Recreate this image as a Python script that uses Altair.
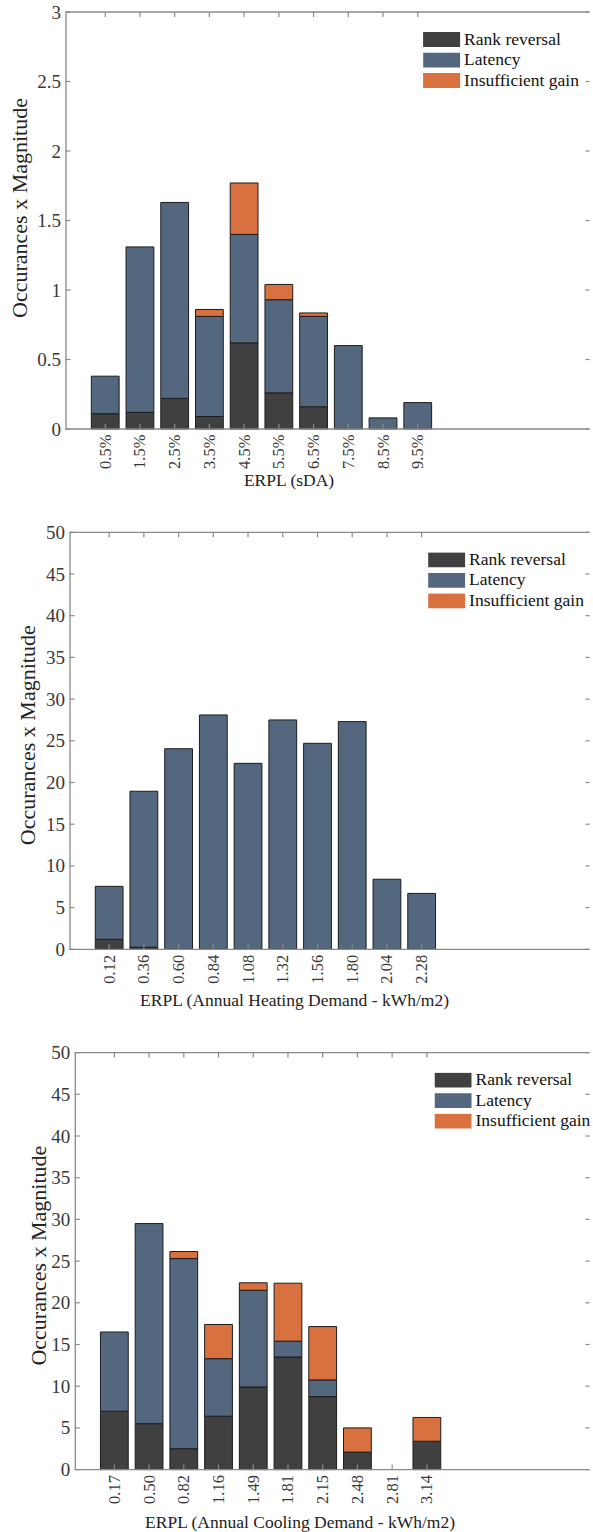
import altair as alt
import pandas as pd

FONT = "Liberation Serif"
names = ["Rank reversal", "Latency", "Insufficient gain"]
colors = ["#404040", "#53687f", "#d8713f"]

labels1 = ["0.5%", "1.5%", "2.5%", "3.5%", "4.5%", "5.5%", "6.5%", "7.5%", "8.5%", "9.5%"]
rank1 = [0.11, 0.12, 0.22, 0.09, 0.62, 0.26, 0.16, 0, 0, 0]
lat1 = [0.27, 1.19, 1.41, 0.72, 0.78, 0.67, 0.65, 0.60, 0.08, 0.19]
gain1 = [0, 0, 0, 0.05, 0.37, 0.11, 0.025, 0, 0, 0]

labels2 = ["0.12", "0.36", "0.60", "0.84", "1.08", "1.32", "1.56", "1.80", "2.04", "2.28"]
rank2 = [1.2, 0.25, 0, 0, 0, 0, 0, 0, 0, 0]
lat2 = [6.35, 18.7, 24.05, 28.1, 22.3, 27.5, 24.7, 27.3, 8.4, 6.7]
gain2 = [0, 0, 0, 0, 0, 0, 0, 0, 0, 0]

labels3 = ["0.17", "0.50", "0.82", "1.16", "1.49", "1.81", "2.15", "2.48", "2.81", "3.14"]
rank3 = [7.0, 5.5, 2.5, 6.4, 9.9, 13.5, 8.75, 2.1, 0, 3.4]
lat3 = [9.5, 24.0, 22.8, 6.9, 11.6, 1.9, 2.0, 0, 0, 0]
gain3 = [0, 0, 0.85, 4.1, 0.9, 6.95, 6.4, 2.9, 0, 2.85]

yticks1 = [0, 0.5, 1, 1.5, 2, 2.5, 3]
yticks23 = [0, 5, 10, 15, 20, 25, 30, 35, 40, 45, 50]

W = 524
H = 417
SP = 35.4
LINE = "#8a8a8a"
SWATCH = "M-1,-0.4L1,-0.4L1,0.4L-1,0.4Z"


def panel(labels, rank, lat, gain, yticks, xtitle, shift, xt_x, xt_y, yt_x, yt_dy, lg_x, lg_y):
    rows = []
    for i, lab in enumerate(labels):
        for k, vals in enumerate([rank, lat, gain]):
            v = vals[i]
            if v > 0:
                rows.append({"pos": i + 1, "lo": i + 0.6, "hi": i + 1.4,
                             "type": names[k], "k": k, "value": v})
    df = pd.DataFrame(rows)
    pos_df = pd.DataFrame({"pos": list(range(1, len(labels) + 1))})
    yt_df = pd.DataFrame({"yv": yticks})
    ymax = yticks[-1]
    d0 = -shift / SP
    xscale = alt.Scale(domain=[d0, d0 + W / SP], nice=False, zero=False)
    yscale = alt.Scale(domain=[0, ymax], nice=False, zero=True)
    lab_expr = "[" + ",".join("'%s'" % l for l in labels) + "][datum.value - 1]"

    xaxis = alt.Axis(values=list(range(1, len(labels) + 1)), labelExpr=lab_expr,
                     labelAngle=270, labelAlign="right", labelBaseline="middle",
                     labelPadding=5, ticks=False, domain=False, grid=False,
                     labelFont=FONT, labelFontSize=16.5, labelColor="#383838",
                     title=xtitle, titleFont=FONT, titleFontSize=17.5,
                     titleFontWeight="normal", titleColor="#222222",
                     titleX=xt_x, titleY=xt_y, titleBaseline="alphabetic",
                     titleAlign="center", titleAnchor="start")
    yaxis = alt.Axis(values=yticks, labelExpr="'' + datum.value", ticks=False,
                     domain=True, domainColor=LINE, domainWidth=1.3, grid=False,
                     offset=-shift, labelPadding=5, labelFont=FONT,
                     labelFontSize=19, labelColor="#383838",
                     title="Occurances x Magnitude", titleFont=FONT,
                     titleFontSize=22, titleFontWeight="normal",
                     titleColor="#222222", titleX=yt_x, titleY=H / 2 + yt_dy)

    bars = alt.Chart(df).mark_bar(orient="vertical", stroke="#1c1c1c", strokeWidth=1).encode(
        x=alt.X("lo:Q", scale=xscale, axis=xaxis, title=xtitle),
        x2="hi:Q",
        y=alt.Y("value:Q", stack="zero", scale=yscale, axis=yaxis,
                title="Occurances x Magnitude"),
        color=alt.Color("type:N", scale=alt.Scale(domain=names, range=colors),
                        legend=alt.Legend(orient="none", legendX=lg_x, legendY=lg_y, title=None,
                                          symbolType=SWATCH, symbolSize=1369,
                                          symbolStrokeWidth=0, symbolOpacity=1,
                                          labelFont=FONT, labelFontSize=17.5,
                                          labelColor="#111111", labelOffset=4,
                                          clipHeight=15, rowPadding=2.5,
                                          padding=0, symbolOffset=0)),
        order=alt.Order("k:Q", sort="ascending"),
    )

    top_ticks = alt.Chart(pos_df).mark_rule(color=LINE, strokeWidth=1.2).encode(
        x=alt.X("pos:Q", scale=xscale, axis=xaxis, title=xtitle), y=alt.value(0), y2=alt.value(5))
    bot_ticks = alt.Chart(pos_df).mark_rule(color=LINE, strokeWidth=1.2).encode(
        x=alt.X("pos:Q", scale=xscale, axis=xaxis, title=xtitle), y=alt.value(H - 5), y2=alt.value(H))
    left_ticks = alt.Chart(yt_df).mark_rule(color=LINE, strokeWidth=1.2).encode(
        y=alt.Y("yv:Q", scale=yscale, axis=yaxis, title="Occurances x Magnitude"),
        x=alt.value(shift), x2=alt.value(shift + 5))
    right_ticks = alt.Chart(yt_df).mark_rule(color=LINE, strokeWidth=1.2).encode(
        y=alt.Y("yv:Q", scale=yscale, axis=yaxis, title="Occurances x Magnitude"),
        x=alt.value(W - 4), x2=alt.value(W))
    one = pd.DataFrame({"a": [0]})
    top_line = alt.Chart(one).mark_rule(color=LINE, strokeWidth=1.3).encode(
        x=alt.value(shift), x2=alt.value(W), y=alt.value(0))
    bot_line = alt.Chart(one).mark_rule(color=LINE, strokeWidth=1.3).encode(
        x=alt.value(shift), x2=alt.value(W), y=alt.value(H))

    return alt.layer(bars, top_ticks, bot_ticks, left_ticks, right_ticks, top_line, bot_line).properties(
        width=W, height=H)


c1 = panel(labels1, rank1, lat1, gain1, yticks1, "ERPL (sDA)", 0.0, 223, 56, -34, -13, 357.6, 20)
c2 = panel(labels2, rank2, lat2, gain2, yticks23, "ERPL (Annual Heating Demand - kWh/m2)",
           4.0, 228.5, 56, -30, -6, 362.6, 20)
c3 = panel(labels3, rank3, lat3, gain3, yticks23, "ERPL (Annual Cooling Demand - kWh/m2)",
           9.3, 234, 58, -24, -6, 369, 20)

chart = alt.vconcat(c1, c2, c3, spacing=103.3, bounds="flush").resolve_scale(
    x="independent", y="independent", color="independent"
).resolve_legend(color="independent").properties(
    padding={"left": 8.5, "top": 3, "right": 0, "bottom": 0}
).configure(font=FONT).configure_view(stroke=None)

chart.save("out.html", embed_options={"renderer": "svg", "actions": False})
